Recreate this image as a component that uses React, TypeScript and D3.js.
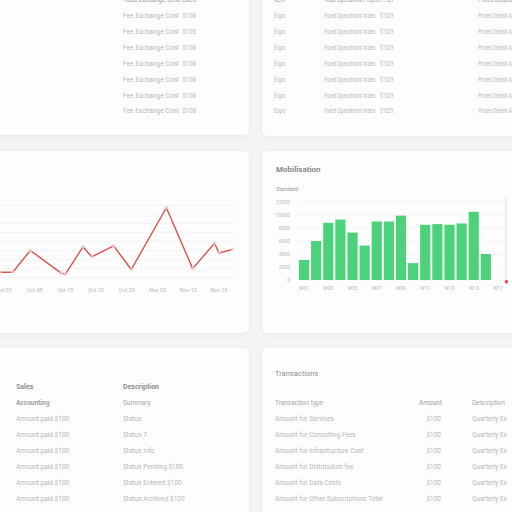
import React from 'react';
import * as d3 from 'd3';

// line card (middle left)
const lineDates = ['2024-09-30', '2024-10-03', '2024-10-07', '2024-10-14', '2024-10-15', '2024-10-19', '2024-10-21', '2024-10-26', '2024-10-30', '2024-11-07', '2024-11-13', '2024-11-18', '2024-11-19', '2024-11-22'];
const lineValues = [6, 6, 30, 5, 4, 34, 23, 35, 9, 77, 10, 38, 27, 31];
const lineTicks = ['2024-10-01', '2024-10-08', '2024-10-15', '2024-10-22', '2024-10-29', '2024-11-05', '2024-11-12', '2024-11-19'];
const lineGrid = [0, 10, 20, 30, 40, 50, 60, 70, 80];

// bar card (middle right)
const barLabels = ['W01', 'W02', 'W03', 'W04', 'W05', 'W06', 'W07', 'W08', 'W09', 'W10', 'W11', 'W12', 'W13', 'W14', 'W15', 'W16', 'W17'];
const barValues = [3100, 6000, 8800, 9300, 7300, 5300, 9000, 9000, 9900, 2600, 8500, 8600, 8500, 8700, 10500, 4000];
const barTicks = [0, 2000, 4000, 6000, 8000, 10000, 12000];

// tables
const costRows = ['Fee Exchange Cost', 'Fee Exchange Cost', 'Fee Exchange Cost', 'Fee Exchange Cost', 'Fee Exchange Cost', 'Fee Exchange Cost', 'Fee Exchange Cost'];
const costAmounts = ['$108', '$103', '$108', '$108', '$108', '$108', '$108'];
const opsRows = ['Expo', 'Expo', 'Expo', 'Expo', 'Expo', 'Expo', 'Expo'];
const opsNames = ['Fixed Operations Index', 'Fixed Operations Index', 'Fixed Operations Index', 'Fixed Operations Index', 'Fixed Operations Index', 'Fixed Operations Index', 'Fixed Operations Index'];
const opsAmounts = ['$1029', '$1029', '$1029', '$1029', '$1029', '$1029', '$1029'];
const salesRows = ['Amount paid $100', 'Amount paid $100', 'Amount paid $100', 'Amount paid $100', 'Amount paid $100', 'Amount paid $100'];
const descRows = ['Status', 'Status 7', 'Status Info', 'Status Pending $100', 'Status Entered $100', 'Status Archived $100'];
const txTypes = ['Amount for Services', 'Amount for Consulting Fees', 'Amount for Infrastructure Cost', 'Amount for Distribution fee', 'Amount for Data Costs', 'Amount for Other Subscriptions Total'];
const txAmounts = ['$100', '$100', '$100', '$100', '$100', '$100'];
const txDesc = ['Quarterly Ex', 'Quarterly Ex', 'Quarterly Ex', 'Quarterly Ex', 'Quarterly Ex', 'Quarterly Ex'];

const FONT = 'Roboto, "Liberation Sans", sans-serif';
const LIGHT = '#b8b8b8';
const MID = '#9a9a9a';

const parse = d3.timeParse('%Y-%m-%d');

// fitted cell: text squeezed to the width it takes in the picture
const Cell = ({ x, y, w, children, fill }: { x: number; y: number; w: number; children: string; fill?: string }) => (
  <text x={x} y={y} dy="0.35em" textLength={w} lengthAdjust="spacingAndGlyphs" fill={fill}>{children}</text>
);

export default function App() {
  const dates = lineDates.map(d => parse(d) as Date);
  const x = d3.scaleTime()
    .domain([parse('2024-10-01') as Date, parse('2024-11-19') as Date])
    .range([4, 219]);
  const y = d3.scaleLinear().domain([0, 80]).range([277.7, 205]);
  const line = d3.line<number>()
    .x((_, i) => x(dates[i]))
    .y(d => y(d));
  const fmt = d3.timeFormat('%b %d');

  const bx = d3.scaleBand<string>().domain(barLabels).range([297, 505]).padding(0.16);
  const by = d3.scaleLinear().domain([0, 12000]).range([280, 202]);

  const rowY = (i: number) => 15.6 + i * 15.9;
  const rowY2 = (i: number) => 419 + i * 16;

  const cards = [
    [-12, -12, 261, 147],
    [262, -12, 270, 148],
    [-12, 151, 261, 182],
    [262, 151, 270, 182],
    [-12, 348, 261, 180],
    [262, 348, 270, 180],
  ];

  return (
    <svg width={512} height={512} style={{ position: 'absolute', left: 0, top: 0, fontFamily: FONT }}>
      <defs>
        <filter id="sh" x="-10%" y="-10%" width="120%" height="120%">
          <feDropShadow dx="0" dy="1" stdDeviation="2" floodColor="#000" floodOpacity="0.05" />
        </filter>
      </defs>
      <rect width={512} height={512} fill="#f3f4f6" />
      {cards.map(([cx, cy, w, h], i) => (
        <rect key={i} x={cx} y={cy} width={w} height={h} rx={6} fill="#fdfdfd" filter="url(#sh)" />
      ))}

      {/* top left table */}
      <g fontSize={7} fill={LIGHT}>
        <Cell x={123} y={0} w={73} fill={MID}>Total Exchange Cost Used</Cell>
        {costRows.map((r, i) => (
          <g key={i}>
            <Cell x={123} y={rowY(i)} w={56}>{r}</Cell>
            <Cell x={182.3} y={rowY(i)} w={14}>{costAmounts[i]}</Cell>
          </g>
        ))}
      </g>

      {/* top right table */}
      <g fontSize={7} fill={LIGHT}>
        <Cell x={274} y={0} w={11} fill={MID}>Item</Cell>
        <Cell x={324} y={0} w={70} fill={MID}>Total Operations Project P.127</Cell>
        <Cell x={478} y={0} w={34} fill={MID}>Prices Details</Cell>
        {opsRows.map((r, i) => (
          <g key={i}>
            <Cell x={274} y={rowY(i)} w={11.5}>{r}</Cell>
            <Cell x={324} y={rowY(i)} w={51.5}>{opsNames[i]}</Cell>
            <Cell x={380} y={rowY(i)} w={13.5}>{opsAmounts[i]}</Cell>
            <Cell x={478} y={rowY(i)} w={34}>Prices Details A</Cell>
          </g>
        ))}
      </g>

      {/* line chart */}
      <g>
        {lineGrid.map(v => (
          <line key={v} x1={-10} x2={236} y1={y(v)} y2={y(v)} stroke="#f1f1f1" strokeWidth={0.8} />
        ))}
        <path d={line(lineValues) || ''} fill="none" stroke="#d9534f" strokeWidth={1.4} strokeLinejoin="round" />
        {lineValues.map((v, i) => (
          <circle key={i} cx={x(dates[i])} cy={y(v)} r={1.8} fill="#f6caca" opacity={0.8} />
        ))}
        {lineTicks.map(t => {
          const d = parse(t) as Date;
          return (
            <text key={t} x={x(d)} y={290} dy="0.35em" textAnchor="middle" fontSize={5.5} fill={LIGHT}>{fmt(d)}</text>
          );
        })}
      </g>

      {/* bar chart */}
      <g>
        <text x={276} y={169.5} dy="0.35em" fontSize={8} fontWeight="bold" fill="#8a8a8a">Mobilisation</text>
        <text x={276} y={188.7} dy="0.35em" fontSize={5.5} fill={MID}>Standard</text>
        {barTicks.map(t => (
          <g key={t}>
            <line x1={297} x2={505} y1={by(t)} y2={by(t)} stroke="#f2f2f2" strokeWidth={0.8} />
            <text x={290} y={by(t)} dy="0.35em" textAnchor="end" fontSize={5} fill={LIGHT}>{t}</text>
          </g>
        ))}
        {barValues.map((v, i) => (
          <rect key={i} x={bx(barLabels[i])} y={by(v)} width={bx.bandwidth()} height={by(0) - by(v)} fill="#4cd27a" />
        ))}
        {barLabels.map((l, i) => i % 2 === 0 ? (
          <text key={l} x={(bx(l) || 0) + bx.bandwidth() / 2} y={288.5} dy="0.35em" textAnchor="middle" fontSize={5} fill={LIGHT}>{l}</text>
        ) : null)}
        <line x1={506} x2={506} y1={198} y2={281} stroke="#f4c0c0" strokeWidth={0.8} />
        <circle cx={506.5} cy={281.7} r={1.8} fill="#e05050" />
      </g>

      {/* bottom left table */}
      <g fontSize={6.5} fill={LIGHT}>
        <text x={16} y={386.7} dy="0.35em" fontSize={7} fontWeight="bold" fill="#8e8e8e">Sales</text>
        <text x={123} y={386.7} dy="0.35em" fontSize={7} fontWeight="bold" fill="#8e8e8e">Description</text>
        <text x={16} y={402.7} dy="0.35em" fontWeight="bold" fill="#a0a0a0">Accounting</text>
        <text x={123} y={402.7} dy="0.35em" fill="#a8a8a8">Summary</text>
        {salesRows.map((r, i) => (
          <g key={i}>
            <text x={16} y={rowY2(i)} dy="0.35em">{r}</text>
            <text x={123} y={rowY2(i)} dy="0.35em">{descRows[i]}</text>
          </g>
        ))}
      </g>

      {/* bottom right table */}
      <g fontSize={6.5} fill={LIGHT}>
        <text x={275} y={373} dy="0.35em" fontSize={7.5} fill="#8e8e8e">Transactions</text>
        <text x={275} y={402.7} dy="0.35em" fill="#a8a8a8">Transaction type</text>
        <text x={442} y={402.7} dy="0.35em" textAnchor="end" fill="#999">Amount</text>
        <text x={472} y={402.7} dy="0.35em" fill="#a8a8a8">Description</text>
        {txTypes.map((r, i) => (
          <g key={i}>
            <text x={275} y={rowY2(i)} dy="0.35em">{r}</text>
            <text x={441} y={rowY2(i)} dy="0.35em" textAnchor="end">{txAmounts[i]}</text>
            <text x={472} y={rowY2(i)} dy="0.35em">{txDesc[i]}</text>
          </g>
        ))}
      </g>
    </svg>
  );
}
